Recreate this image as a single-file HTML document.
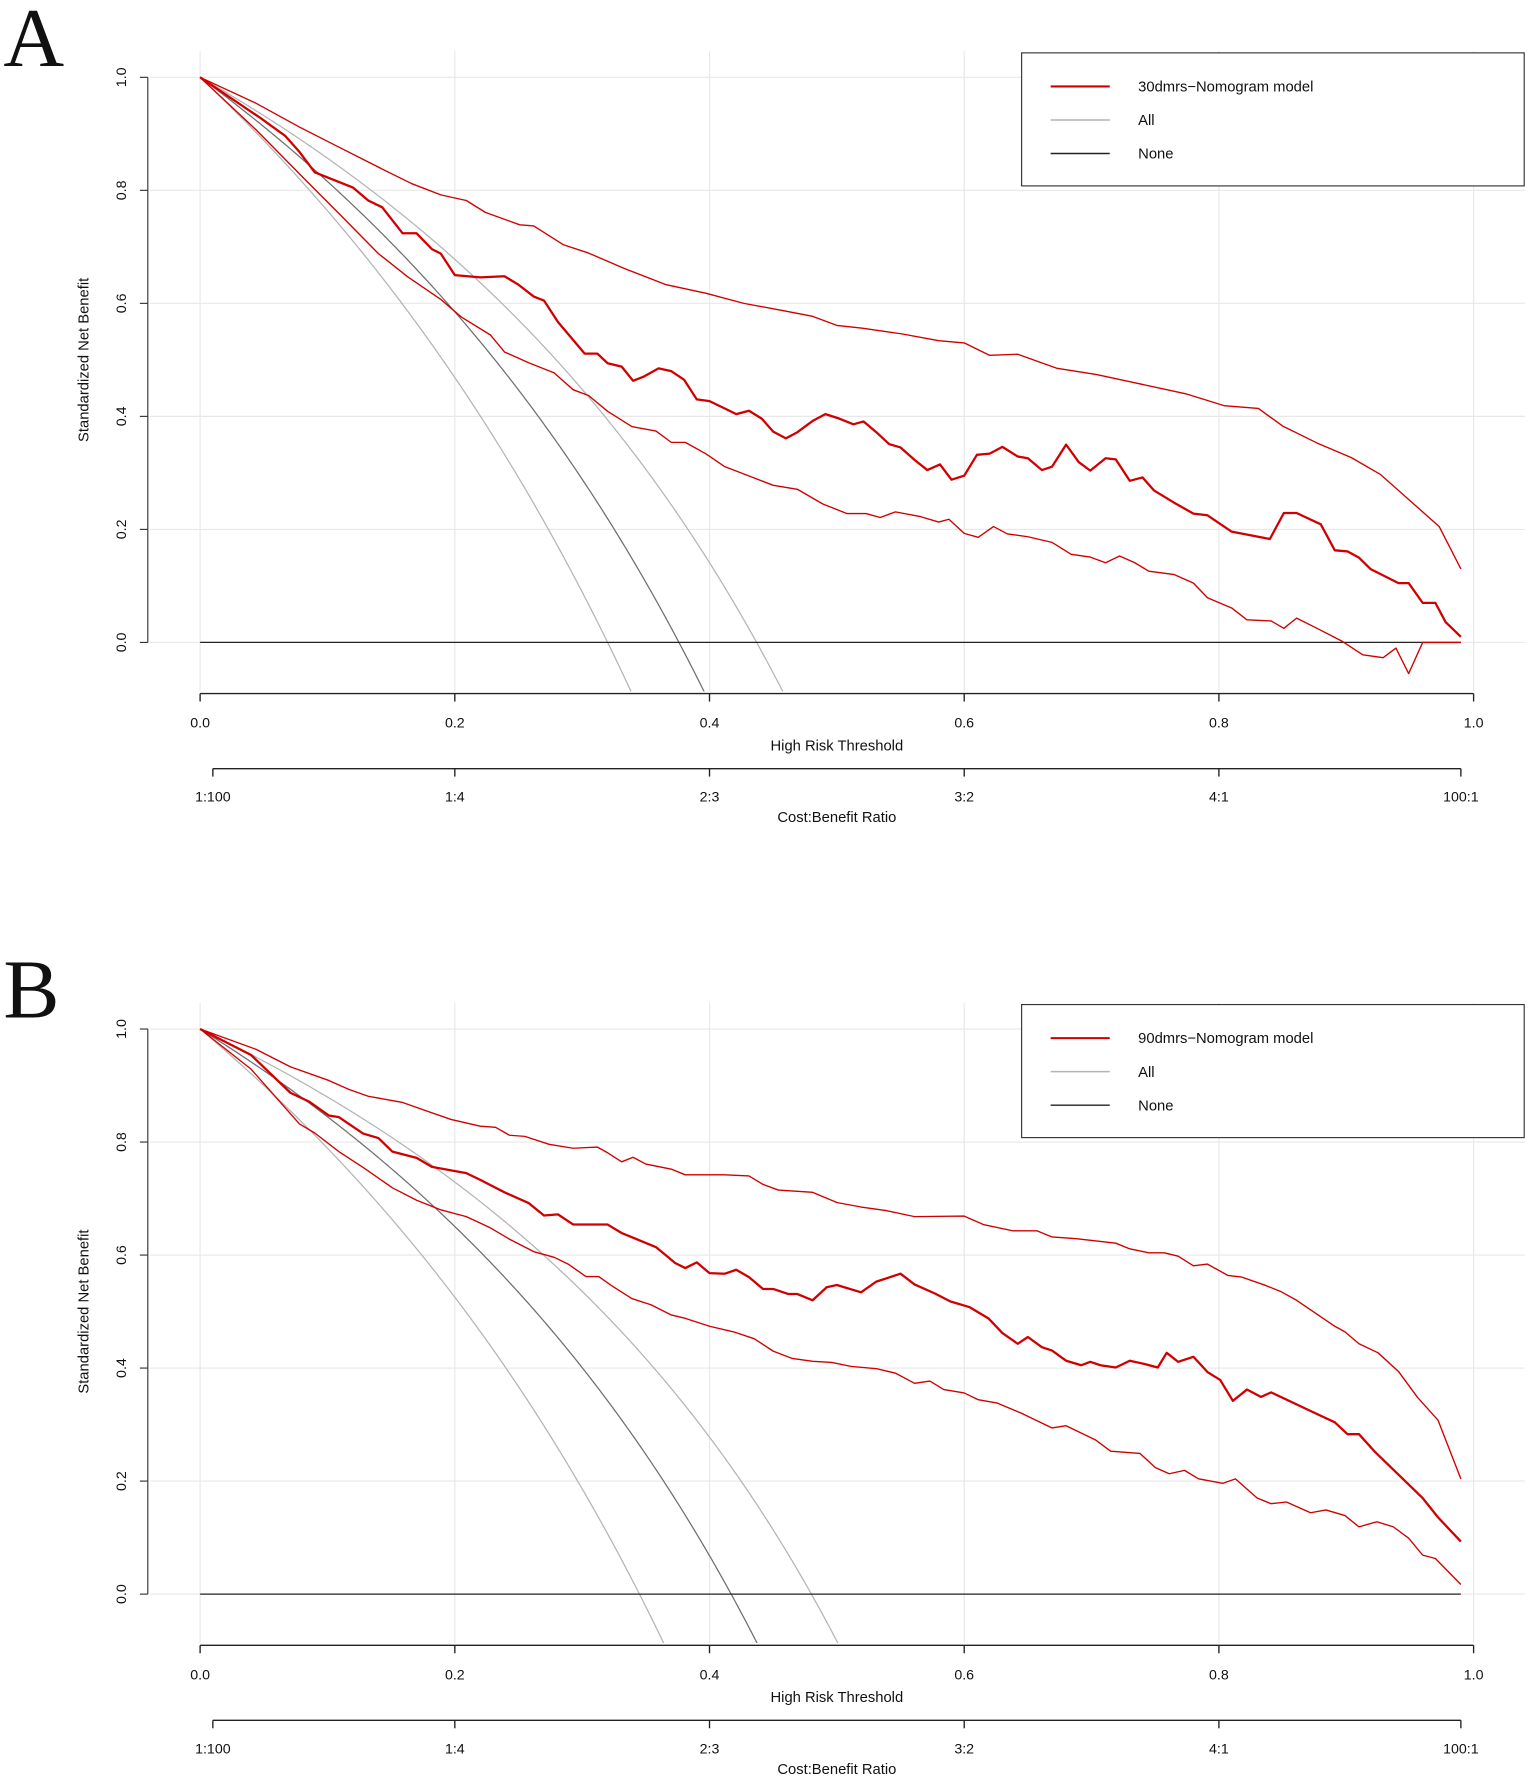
<!DOCTYPE html>
<html><head><meta charset="utf-8">
<style>
html,body{margin:0;padding:0;background:#fff;}
svg{display:block;}
text{font-family:"Liberation Sans",Arial,sans-serif;fill:#111;}
</style></head>
<body>
<svg id="fig" width="1535" height="1784" viewBox="0 0 1350 1569" preserveAspectRatio="none" xmlns="http://www.w3.org/2000/svg"></svg>
<script>
// ---------- DATA ----------
const xTicks = [0, 0.2, 0.4, 0.6, 0.8, 1.0];
const xTickLabels = ["0.0","0.2","0.4","0.6","0.8","1.0"];
const yTicks = [0, 0.2, 0.4, 0.6, 0.8, 1.0];
const yTickLabels = ["0.0","0.2","0.4","0.6","0.8","1.0"];
const costTicks = [0.01, 0.2, 0.4, 0.6, 0.8, 0.99];
const costLabels = ["1:100","1:4","2:3","3:2","4:1","100:1"];
const panelLetters = ["A","B"];
const modelNames = ["30dmrs\u2212Nomogram model","90dmrs\u2212Nomogram model"];
const allPrevA = [0.32, 0.376, 0.437];
const allPrevB = [0.345, 0.417, 0.48];

const tMidA = [0,.048,.067,.078,.09,.12,.132,.143,.159,.17,.182,.189,.2,.22,.239,.25,.262,.27,.281,.293,.302,.312,.32,.331,.34,.348,.36,.37,.38,.39,.40,.412,.421,.431,.441,.45,.46,.469,.481,.491,.502,.513,.521,.531,.541,.55,.561,.571,.581,.59,.6,.61,.62,.63,.642,.65,.661,.669,.68,.69,.699,.711,.719,.73,.74,.749,.765,.78,.791,.81,.84,.851,.861,.88,.891,.901,.91,.919,.941,.949,.96,.97,.978,.99];
const vMidA = [1,.927,.896,.868,.832,.805,.782,.77,.724,.724,.696,.688,.65,.646,.648,.633,.612,.605,.567,.535,.511,.511,.494,.488,.463,.47,.485,.48,.465,.43,.427,.414,.404,.41,.396,.373,.361,.372,.392,.404,.396,.386,.391,.372,.351,.345,.323,.305,.315,.288,.295,.332,.334,.346,.329,.326,.305,.311,.35,.319,.304,.326,.324,.286,.292,.269,.247,.228,.225,.196,.183,.229,.229,.209,.163,.161,.15,.13,.105,.105,.07,.07,.036,.01];
const tUpA = [0,.044,.078,.105,.14,.166,.189,.209,.224,.251,.262,.285,.305,.335,.366,.397,.427,.458,.481,.5,.52,.551,.58,.6,.62,.642,.673,.704,.735,.774,.804,.831,.85,.877,.904,.927,.95,.973,.99];
const vUpA = [1,.954,.912,.881,.841,.812,.792,.782,.761,.739,.737,.704,.689,.66,.633,.618,.6,.587,.577,.561,.556,.546,.534,.53,.508,.51,.485,.474,.459,.44,.419,.414,.383,.353,.327,.297,.251,.205,.13];
const tLoA = [0,.044,.082,.109,.14,.163,.189,.205,.228,.239,.258,.278,.293,.305,.32,.339,.358,.37,.381,.397,.412,.427,.45,.469,.489,.508,.523,.534,.546,.565,.58,.588,.6,.611,.623,.634,.65,.669,.684,.699,.711,.722,.734,.745,.765,.78,.791,.81,.822,.841,.851,.861,.877,.896,.913,.929,.939,.949,.96,.99];
const vLoA = [1,.907,.82,.759,.688,.647,.607,.576,.544,.514,.495,.477,.447,.437,.409,.382,.374,.354,.354,.334,.311,.298,.278,.271,.245,.228,.228,.221,.231,.223,.213,.218,.193,.186,.205,.192,.187,.177,.156,.151,.141,.153,.141,.126,.12,.105,.079,.061,.04,.038,.025,.043,.025,.003,-.022,-.027,-.01,-.055,0,0];

const tMidB = [0,.04,.071,.086,.101,.109,.128,.14,.151,.17,.182,.209,.22,.239,.258,.27,.281,.293,.32,.331,.358,.373,.381,.39,.4,.412,.421,.431,.442,.45,.462,.469,.481,.492,.5,.519,.531,.55,.561,.577,.589,.604,.619,.63,.642,.65,.661,.669,.68,.692,.699,.707,.719,.73,.742,.752,.759,.768,.78,.791,.801,.811,.822,.833,.841,.872,.891,.901,.91,.922,.96,.972,.99];
const vMidB = [1,.954,.887,.871,.847,.844,.815,.807,.783,.772,.756,.745,.733,.711,.692,.67,.672,.654,.654,.639,.614,.586,.577,.587,.568,.567,.574,.561,.54,.54,.531,.531,.52,.543,.547,.534,.553,.567,.548,.532,.518,.508,.488,.462,.443,.455,.437,.431,.413,.405,.411,.405,.401,.413,.407,.401,.427,.411,.42,.393,.379,.342,.362,.349,.357,.324,.304,.283,.283,.253,.17,.136,.093];
const tUpB = [0,.044,.071,.101,.117,.132,.159,.174,.197,.22,.232,.243,.255,.274,.293,.312,.32,.331,.34,.35,.37,.381,.412,.431,.442,.454,.481,.5,.519,.538,.561,.6,.615,.638,.657,.669,.688,.719,.73,.745,.757,.768,.78,.791,.807,.818,.837,.849,.861,.876,.891,.899,.91,.925,.941,.956,.972,.99];
const vUpB = [1,.964,.933,.909,.893,.881,.87,.858,.84,.828,.826,.812,.81,.796,.789,.791,.781,.765,.773,.761,.752,.742,.742,.74,.725,.715,.711,.693,.685,.679,.668,.669,.654,.643,.643,.632,.629,.621,.611,.604,.604,.598,.581,.584,.564,.561,.546,.535,.52,.497,.474,.464,.443,.427,.394,.348,.308,.204];
const tLoB = [0,.04,.078,.09,.109,.128,.151,.17,.189,.209,.228,.243,.262,.278,.289,.303,.313,.323,.339,.354,.37,.381,.4,.419,.435,.45,.465,.481,.496,.511,.531,.546,.561,.573,.584,.6,.611,.626,.645,.669,.68,.703,.715,.738,.75,.761,.773,.784,.803,.813,.83,.841,.853,.872,.884,.899,.91,.924,.937,.949,.96,.97,.99];
const vLoB = [1,.929,.832,.816,.783,.755,.719,.697,.68,.668,.648,.628,.606,.596,.584,.562,.562,.546,.523,.512,.494,.488,.474,.464,.452,.43,.417,.412,.41,.403,.399,.391,.373,.377,.362,.356,.344,.338,.32,.294,.298,.273,.253,.249,.224,.213,.219,.204,.196,.204,.17,.16,.163,.144,.149,.139,.119,.128,.119,.099,.069,.063,.017];

// ---------- DRAWING ----------
const NS = "http://www.w3.org/2000/svg";
const svg = document.getElementById('fig');
function mk(tag, attrs, parent){
  const e = document.createElementNS(NS, tag);
  for (const k in attrs) e.setAttribute(k, attrs[k]);
  (parent||svg).appendChild(e);
  return e;
}
const X0 = 176, X1 = 1296;
function xs(t){ return X0 + t*(X1-X0); }

function drawPanel(off, letter, modelName, prevs, curves){
  const yTop = 68 + off, yZero = 565 + off;
  const ys = v => yZero - v*(yZero - yTop);
  const g = mk('g', {});
  
  

  const lt = mk('text', {x: 3, y: 58+off, 'font-size': 74, style: 'font-family:"Liberation Serif",serif'}, g);
  lt.textContent = letter;
  
  

  const grid = mk('g', {stroke:'#e8e8e8','stroke-width':1}, g);
  
  
  xTicks.forEach(t => mk('line', {x1:xs(t), x2:xs(t), y1:45+off, y2:608+off}, grid));
  yTicks.forEach(v => mk('line', {x1:132, x2:1341, y1:ys(v), y2:ys(v)}, grid));

  const ya = mk('g', {stroke:'#333','stroke-width':1}, g);
  
  
  mk('line', {x1:130, x2:130, y1:ys(1), y2:ys(0)}, ya);
  yTicks.forEach((v,i) => {
    mk('line', {x1:123, x2:130, y1:ys(v), y2:ys(v)}, ya);
    const tx = mk('text', {x:0, y:0, 'font-size':12.5, 'text-anchor':'middle', stroke:'none',
      transform:`translate(111,${ys(v)}) rotate(-90)`}, ya);
    tx.textContent = yTickLabels[i];
    
    
  });
  const yt = mk('text', {x:0, y:0, 'font-size':13, 'text-anchor':'middle', transform:`translate(78,${ys(0.5)}) rotate(-90)`}, g);
  yt.textContent = 'Standardized Net Benefit';
  
  

  const cid = 'clip'+letter;
  const cp = mk('clipPath', {id:cid}, g);
  mk('rect', {x:X0-2, y:40+off, width:1180, height:568}, cp);

  const allG = mk('g', {'clip-path':`url(#${cid})`, fill:'none'}, g);
  
  
  prevs.forEach((p,i) => {
    let d = '';
    for (let k=0; k<=400; k++){
      const t = k/400*0.6;
      const v = 1 - (1-p)/p * t/(1-t);
      d += (k?'L':'M') + xs(t).toFixed(2) + ' ' + ys(v).toFixed(2);
      if (v < -0.2) break;
    }
    const pth = mk('path', {d, stroke: i===1 ? '#6e6e6e' : '#b4b4b4', 'stroke-width': 1.1}, allG);
    
    
  });

  const none = mk('line', {x1:xs(0), x2:xs(0.99), y1:ys(0), y2:ys(0), stroke:'#222', 'stroke-width':1.1}, g);
  
  

  curves.forEach((c,i) => {
    const d = c.t.map((t,k) => (k?'L':'M') + xs(t).toFixed(2) + ' ' + ys(c.v[k]).toFixed(2)).join('');
    const pth = mk('path', {d, fill:'none', stroke:'#d00000', 'stroke-width': i===0 ? 2 : 1.2, 'stroke-linejoin':'round'}, g);
    
    
  });

  const xa = mk('g', {stroke:'#222','stroke-width':1.2}, g);
  
  
  mk('line', {x1:xs(0), x2:xs(1), y1:610+off, y2:610+off}, xa);
  xTicks.forEach((t,i) => {
    mk('line', {x1:xs(t), x2:xs(t), y1:610+off, y2:617+off}, xa);
    const tx = mk('text', {x:xs(t), y:640+off, 'font-size':12.5, 'text-anchor':'middle', stroke:'none'}, xa);
    tx.textContent = xTickLabels[i];
    
    
  });
  const xt = mk('text', {x:736, y:660+off, 'font-size':13, 'text-anchor':'middle'}, g);
  xt.textContent = 'High Risk Threshold';
  
  

  const ca = mk('g', {stroke:'#222','stroke-width':1.2}, g);
  
  
  mk('line', {x1:xs(costTicks[0]), x2:xs(costTicks[5]), y1:676+off, y2:676+off}, ca);
  costTicks.forEach((t,i) => {
    mk('line', {x1:xs(t), x2:xs(t), y1:676+off, y2:683+off}, ca);
    const tx = mk('text', {x:xs(t), y:705+off, 'font-size':12.5, 'text-anchor':'middle', stroke:'none'}, ca);
    tx.textContent = costLabels[i];
    
    
  });
  const ct = mk('text', {x:736, y:723+off, 'font-size':13, 'text-anchor':'middle'}, g);
  ct.textContent = 'Cost:Benefit Ratio';
  
  

  const lg = mk('g', {}, g);
  
  
  mk('rect', {x:898.5, y:46.5+off, width:442, height:117, fill:'#fff', stroke:'#333', 'stroke-width':1}, lg);
  const entries = [[modelName,'#d00000',1.8],['All','#b4b4b4',1.3],['None','#222',1.3]];
  entries.forEach((e,i) => {
    const y = 76 + i*29.5 + off;
    const le = mk('g', {}, lg);
    
    
    mk('line', {x1:924, x2:976, y1:y, y2:y, stroke:e[1], 'stroke-width':e[2]}, le);
    const tx = mk('text', {x:1001, y:y+4.5, 'font-size':13}, le);
    tx.textContent = e[0];
  });
}

drawPanel(0, panelLetters[0], modelNames[0], allPrevA,
  [{t:tMidA,v:vMidA},{t:tUpA,v:vUpA},{t:tLoA,v:vLoA}]);
drawPanel(837, panelLetters[1], modelNames[1], allPrevB,
  [{t:tMidB,v:vMidB},{t:tUpB,v:vUpB},{t:tLoB,v:vLoB}]);
</script>
</body></html>
